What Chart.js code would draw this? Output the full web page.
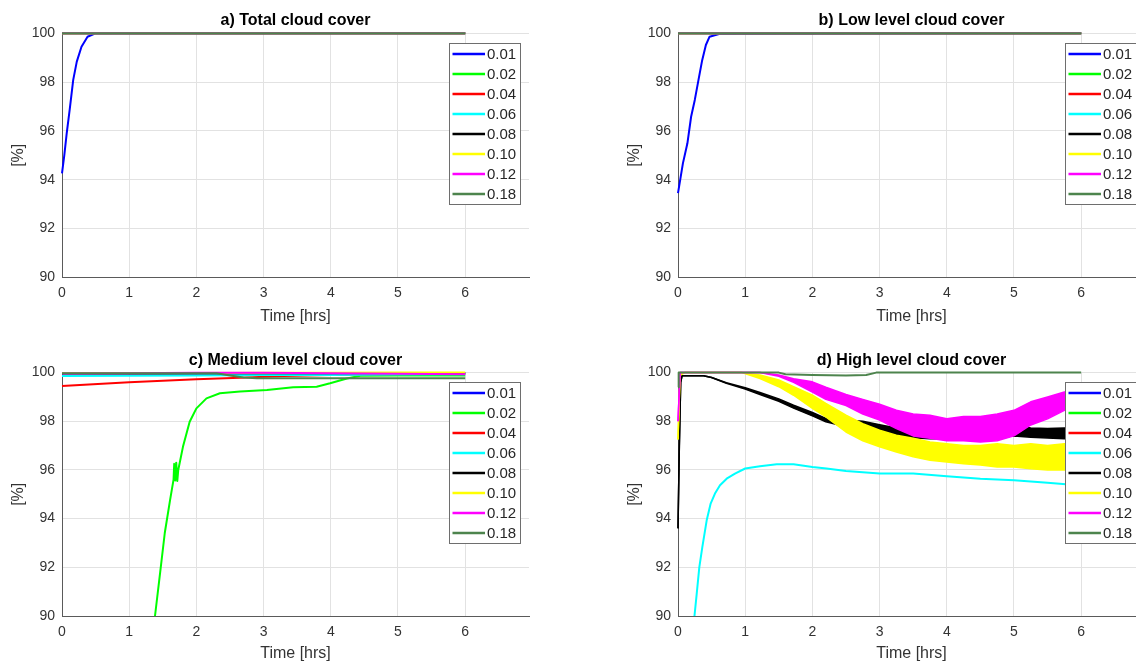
<!DOCTYPE html>
<html>
<head>
<meta charset="utf-8">
<script src="https://cdn.jsdelivr.net/npm/chart.js@4/dist/chart.umd.min.js"></script>
<style>
  html, body { margin: 0; padding: 0; background: #fff; }
  body { width: 1136px; height: 663px; overflow: hidden; position: relative; }
  .panel { position: absolute; }
</style>
</head>
<body>
<div class="panel" style="left:0;top:0;"><canvas id="pa" width="560" height="330"></canvas></div>
<div class="panel" style="left:616px;top:0;"><canvas id="pb" width="560" height="330"></canvas></div>
<div class="panel" style="left:0;top:330px;"><canvas id="pc" width="560" height="333"></canvas></div>
<div class="panel" style="left:616px;top:330px;"><canvas id="pd" width="560" height="333"></canvas></div>
<script>
// ---- series and axes ----
const seriesLabels = ['0.01', '0.02', '0.04', '0.06', '0.08', '0.10', '0.12', '0.18'];
const seriesColors = ['#0000ff', '#00ff00', '#ff0000', '#00ffff', '#000000', '#ffff00', '#ff00ff', '#4d844d'];
const xTicks = [0, 1, 2, 3, 4, 5, 6];
const yTicks = [90, 92, 94, 96, 98, 100];
const panelTitles = ['a) Total cloud cover', 'b) Low level cloud cover', 'c) Medium level cloud cover', 'd) High level cloud cover'];

// constant 100 % runs
const flatT = [0, 6];
const flatV = [100, 100];
// no high-level cloud values for these runs
const noneT = [];
const noneV = [];

// a) total cloud cover, 0.01
const aBlueT = [0, 0.034, 0.07, 0.114, 0.167, 0.22, 0.29, 0.38, 0.49, 6];
const aBlueV = [94.26, 95.0, 95.9, 96.86, 98.09, 98.84, 99.45, 99.86, 99.99, 100];

// b) low level cloud cover, 0.01
const bBlueT = [0, 0.073, 0.14, 0.195, 0.25, 0.305, 0.36, 0.415, 0.47, 0.61, 6];
const bBlueV = [93.45, 94.67, 95.49, 96.58, 97.27, 98.09, 98.9, 99.52, 99.86, 99.97, 100];

// c) medium level cloud cover
const cBlueT = [0, 1, 2, 3, 4, 5, 6];
const cBlueV = [99.97, 99.97, 99.96, 99.96, 99.97, 99.97, 99.97];
const cGreenT = [1.384, 1.46, 1.53, 1.61, 1.66, 1.67, 1.685, 1.70, 1.716, 1.73, 1.8, 1.9, 2.0, 2.15, 2.35, 2.65, 3.05, 3.44, 3.79, 3.99, 4.24, 4.44, 5, 6];
const cGreenV = [90, 91.77, 93.42, 94.79, 95.6, 96.25, 95.57, 96.3, 95.55, 96.0, 96.95, 97.98, 98.53, 98.94, 99.15, 99.22, 99.29, 99.4, 99.42, 99.56, 99.76, 99.87, 99.88, 99.88];
const cRedT = [0, 1, 2, 2.65, 3.3, 4, 5, 6];
const cRedV = [99.45, 99.6, 99.73, 99.79, 99.86, 99.9, 99.93, 99.95];
const cCyanT = [0, 1, 2, 3, 4, 5, 6];
const cCyanV = [99.86, 99.87, 99.88, 99.9, 99.9, 99.92, 99.93];
const cBlackT = [0, 1, 2, 3, 4, 5, 6];
const cBlackV = [99.96, 99.96, 99.97, 99.97, 99.97, 99.98, 99.98];
const cYellowT = [0, 1, 2, 3, 4, 5, 6];
const cYellowV = [99.98, 99.98, 99.98, 99.99, 99.99, 100, 100];
const cMagentaT = [0, 1, 1.5, 2, 3, 4, 5, 6];
const cMagentaV = [99.96, 99.97, 99.98, 99.99, 99.99, 99.97, 99.95, 99.93];
const cDkGreenT = [0, 2.3, 2.5, 2.7, 2.9, 6];
const cDkGreenV = [99.97, 99.97, 99.88, 99.8, 99.77, 99.77];

// d) high level cloud cover (spread = upper / lower edge of the noisy trace)
const dCyanT = [0.245, 0.278, 0.317, 0.362, 0.427, 0.486, 0.55, 0.625, 0.724, 0.848, 1.0, 1.22, 1.47, 1.72, 2.0, 2.21, 2.5, 3.0, 3.5, 4.0, 4.5, 5.0, 5.5, 6.0];
const dCyanV = [90, 90.9, 92.0, 92.83, 93.93, 94.62, 95.03, 95.37, 95.64, 95.85, 96.06, 96.15, 96.23, 96.23, 96.12, 96.06, 95.96, 95.85, 95.85, 95.74, 95.64, 95.58, 95.47, 95.36];
const dBlackT = [0, 0.02, 0.04, 0.06, 0.38, 0.5, 0.72, 1.0, 1.22, 1.5, 1.72, 2.0, 2.2, 2.5, 2.75, 3.0, 3.25, 3.5, 3.75, 4.0, 4.25, 4.5, 4.75, 5.0, 5.25, 5.5, 5.75, 6.0];
const dBlackHi = [93.6, 97.0, 99.6, 99.87, 99.87, 99.8, 99.58, 99.38, 99.18, 98.92, 98.66, 98.36, 98.12, 98.05, 98.0, 97.86, 97.72, 97.6, 97.55, 97.55, 97.52, 97.55, 97.66, 97.84, 97.72, 97.7, 97.72, 97.7];
const dBlackLo = [93.6, 97.0, 99.6, 99.87, 99.87, 99.8, 99.56, 99.32, 99.1, 98.82, 98.54, 98.22, 97.98, 97.77, 97.68, 97.54, 97.42, 97.32, 97.28, 97.28, 97.26, 97.28, 97.34, 97.4, 97.34, 97.31, 97.28, 97.28];
const dYellowT = [0, 0.03, 0.1, 0.95, 1.22, 1.5, 1.72, 2.0, 2.2, 2.5, 2.75, 3.0, 3.25, 3.5, 3.75, 4.0, 4.25, 4.5, 4.75, 5.0, 5.25, 5.5, 5.75, 6.0];
const dYellowHi = [97.25, 99.9, 100, 100, 99.9, 99.7, 99.42, 99.07, 98.73, 98.25, 97.9, 97.63, 97.43, 97.3, 97.15, 97.08, 97.0, 97.0, 97.08, 97.0, 97.08, 97.0, 97.08, 96.9];
const dYellowLo = [97.25, 99.9, 100, 100, 99.76, 99.42, 99.07, 98.53, 98.18, 97.56, 97.2, 96.95, 96.74, 96.54, 96.4, 96.33, 96.26, 96.2, 96.12, 96.12, 96.05, 96.0, 96.0, 96.0];
const dMagentaT = [0, 0.03, 0.1, 1.22, 1.5, 1.72, 2.0, 2.2, 2.5, 2.75, 3.0, 3.25, 3.5, 3.75, 4.0, 4.25, 4.5, 4.75, 5.0, 5.25, 5.5, 5.75, 6.0];
const dMagentaHi = [98.0, 100, 100, 100, 99.9, 99.75, 99.62, 99.4, 99.1, 98.9, 98.7, 98.45, 98.3, 98.25, 98.1, 98.2, 98.2, 98.3, 98.45, 98.8, 99.0, 99.2, 99.3];
const dMagentaLo = [98.0, 100, 100, 100, 99.85, 99.6, 99.2, 98.9, 98.65, 98.3, 98.05, 97.7, 97.4, 97.3, 97.2, 97.2, 97.15, 97.2, 97.4, 97.85, 98.1, 98.45, 98.65];
const dDkGreenT = [0, 0.01, 1.5, 1.6, 2.0, 2.5, 2.8, 2.95, 6];
const dDkGreenV = [99.4, 100, 100, 99.93, 99.9, 99.88, 99.9, 100, 100];

// ---- styling ----
const FONT = '"Liberation Sans", Arial, Helvetica, sans-serif';
const X_MAX = 6.95;
const gridColor = '#e2e2e2';
const axisColor = '#5a5a5a';
const textColor = '#333333';

Chart.defaults.font.family = FONT;
Chart.defaults.animation = false;

const pts = (t, v) => t.map((x, i) => ({ x: x, y: v[i] }));

// one series = either a single trace or an upper/lower pair filled in between
function buildDatasets(series) {
  const out = [];
  series.forEach((s, i) => {
    const color = seriesColors[i];
    const base = (series.length - i) * 10;
    if (s.hi) {
      out.push({ data: pts(s.t, s.hi), borderColor: color, borderWidth: 1.5, order: base, fill: false, clip: false });
      out.push({ data: pts(s.t, s.lo), borderColor: color, backgroundColor: color, borderWidth: 1.5, order: base + 1, fill: '-1', clip: false });
    } else {
      out.push({ data: pts(s.t, s.v), borderColor: color, borderWidth: 2, order: base, fill: false, clip: false });
    }
  });
  return out;
}

const panelTitle = {
  id: 'panelTitle',
  afterDraw(chart, args, opts) {
    const { ctx, chartArea: a } = chart;
    ctx.save();
    ctx.font = 'bold 16px ' + FONT;
    ctx.fillStyle = '#000';
    ctx.textAlign = 'center';
    ctx.textBaseline = 'alphabetic';
    ctx.fillText(opts.text, (a.left + a.right) / 2, a.top - 8);
    ctx.restore();
  }
};

const legendBox = {
  id: 'legendBox',
  afterDraw(chart) {
    const { ctx, chartArea: a } = chart;
    const w = 71, h = 161;
    const x = Math.round(a.right - 9 - w), y = Math.round(a.top + 9.4);
    ctx.save();
    ctx.fillStyle = '#fff';
    ctx.fillRect(x, y, w, h);
    ctx.strokeStyle = '#6e6e6e';
    ctx.lineWidth = 1;
    ctx.strokeRect(x + 0.5, y + 0.5, w, h);
    ctx.font = '15px ' + FONT;
    ctx.textBaseline = 'middle';
    ctx.textAlign = 'left';
    seriesLabels.forEach((lab, i) => {
      const cy = y + 11 + 20 * i;
      ctx.strokeStyle = seriesColors[i];
      ctx.lineWidth = 2.5;
      ctx.beginPath();
      ctx.moveTo(x + 3.5, cy);
      ctx.lineTo(x + 36, cy);
      ctx.stroke();
      ctx.fillStyle = '#262626';
      ctx.fillText(lab, x + 38, cy + 0.5);
    });
    ctx.restore();
  }
};

function makeChart(id, title, series, p) {
  return new Chart(document.getElementById(id), {
    type: 'line',
    data: { datasets: buildDatasets(series) },
    plugins: [panelTitle, legendBox],
    options: {
      responsive: false,
      devicePixelRatio: 1,
      layout: { padding: { left: 0, right: 31, top: p.padTop, bottom: 0 } },
      elements: { point: { radius: 0 }, line: { tension: 0, borderJoinStyle: 'round' } },
      plugins: {
        legend: { display: false },
        tooltip: { enabled: false },
        title: { display: false },
        panelTitle: { text: title }
      },
      scales: {
        x: {
          type: 'linear', min: 0, max: X_MAX,
          afterBuildTicks: s => { s.ticks = xTicks.map(v => ({ value: v })); },
          afterFit: s => { s.height = p.xAxisH; },
          grid: { color: gridColor, lineWidth: 1, drawTicks: false },
          border: { display: true, color: axisColor, width: 1 },
          ticks: { padding: 7.3, color: textColor, font: { size: 14 }, maxRotation: 0, autoSkip: false, callback: v => String(v) },
          title: { display: true, text: 'Time [hrs]', color: textColor, font: { size: 16 }, padding: { top: 0, bottom: p.xTitlePad } }
        },
        y: {
          type: 'linear', min: 90, max: 100,
          afterBuildTicks: s => { s.ticks = yTicks.map(v => ({ value: v })); },
          afterFit: s => { s.width = 62; },
          grid: { color: gridColor, lineWidth: 1, drawTicks: false },
          border: { display: true, color: axisColor, width: 1 },
          ticks: { padding: 7, color: textColor, font: { size: 14 }, autoSkip: false, callback: v => String(v) },
          title: { display: true, text: '[%]', color: textColor, font: { size: 16 }, padding: { top: 9, bottom: 0 } }
        }
      }
    }
  });
}

const topRow = { padTop: 33.3, xAxisH: 52.7, xTitlePad: 4 };
const bottomRow = { padTop: 42.6, xAxisH: 47, xTitlePad: 0 };

makeChart('pa', panelTitles[0], [
  { t: aBlueT, v: aBlueV }, { t: flatT, v: flatV }, { t: flatT, v: flatV }, { t: flatT, v: flatV },
  { t: flatT, v: flatV }, { t: flatT, v: flatV }, { t: flatT, v: flatV }, { t: flatT, v: flatV }
], topRow);

makeChart('pb', panelTitles[1], [
  { t: bBlueT, v: bBlueV }, { t: flatT, v: flatV }, { t: flatT, v: flatV }, { t: flatT, v: flatV },
  { t: flatT, v: flatV }, { t: flatT, v: flatV }, { t: flatT, v: flatV }, { t: flatT, v: flatV }
], topRow);

makeChart('pc', panelTitles[2], [
  { t: cBlueT, v: cBlueV }, { t: cGreenT, v: cGreenV }, { t: cRedT, v: cRedV }, { t: cCyanT, v: cCyanV },
  { t: cBlackT, v: cBlackV }, { t: cYellowT, v: cYellowV }, { t: cMagentaT, v: cMagentaV }, { t: cDkGreenT, v: cDkGreenV }
], bottomRow);

makeChart('pd', panelTitles[3], [
  { t: noneT, v: noneV }, { t: noneT, v: noneV }, { t: noneT, v: noneV }, { t: dCyanT, v: dCyanV },
  { t: dBlackT, hi: dBlackHi, lo: dBlackLo }, { t: dYellowT, hi: dYellowHi, lo: dYellowLo },
  { t: dMagentaT, hi: dMagentaHi, lo: dMagentaLo }, { t: dDkGreenT, v: dDkGreenV }
], bottomRow);
</script>
</body>
</html>
